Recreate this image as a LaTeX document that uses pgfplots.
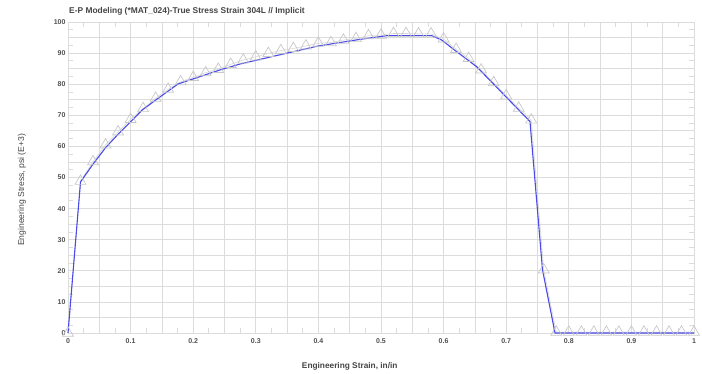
\documentclass[border=0pt]{standalone}
\usepackage{pgfplots}
\pgfplotsset{compat=1.18}
\usepackage{fontspec}
\setmainfont{Liberation Sans}
\definecolor{gridc}{HTML}{DCDCDC}
\definecolor{txt}{HTML}{505050}
\definecolor{bl}{HTML}{4A4AE8}
\definecolor{tri}{HTML}{C8C8C8}
\begin{document}
\begin{tikzpicture}[x=1pt,y=1pt]
\useasboundingbox (-68,-40) rectangle (634,333);
\begin{axis}[
  at={(0,0)}, anchor=south west,
  scale only axis, width=626pt, height=311pt,
  xmin=0, xmax=1, ymin=0, ymax=100,
  axis line style={gridc},
  xtick={0,0.05,...,1.01},
  xticklabels={0,{},0.1,{},0.2,{},0.3,{},0.4,{},0.5,{},0.6,{},0.7,{},0.8,{},0.9,{},1},
  ytick={0,5,...,100},
  yticklabels={0,{},10,{},20,{},30,{},40,{},50,{},60,{},70,{},80,{},90,{},100},
  minor x tick num=1, minor y tick num=1,
  major tick length=0pt, minor tick length=5pt,
  tick align=inside,
  tick style={gridc, line width=0.8pt},
  grid=major,
  major grid style={gridc, line width=0.8pt},
  tick label style={font=\fontsize{7}{8}\selectfont\bfseries, text=txt},
  xticklabel style={yshift=-2pt},
  yticklabel style={xshift=1pt},
  title={E-P Modeling (*MAT\_024)-True Stress Strain 304L // Implicit},
  title style={at={(axis description cs:0,1)}, anchor=south west, yshift=0pt, inner sep=1pt,
    font=\fontsize{8.4}{9}\selectfont\bfseries, text=txt!85!black},
  xlabel={Engineering Strain, in/in},
  xlabel style={at={(axis description cs:0.45,-0.106)}, anchor=center,
    font=\fontsize{8.3}{9}\selectfont\bfseries, text=txt!85!black},
  ylabel={Engineering Stress, psi (E+3)},
  ylabel style={at={(axis description cs:-0.0735,0.46)}, anchor=center, rotate=0,
    font=\fontsize{8.6}{9}\selectfont, text=txt!85!black},
  clip=false,
]
\addplot[tri!70, line width=0.6pt, mark=triangle, mark size=6.3pt, mark options={tri, line width=0.7pt}]
coordinates {
(0,0) (0.02,48.8) (0.04,55.1) (0.06,60.5) (0.08,64.7) (0.10,68.7) (0.12,72.2)
(0.14,75.5) (0.16,78.4) (0.18,80.8) (0.20,82.2) (0.22,83.7) (0.24,84.8) (0.26,86.4)
(0.28,87.8) (0.30,88.8) (0.32,89.9) (0.34,90.8) (0.36,91.5) (0.38,92.3) (0.40,93.2)
(0.42,93.4) (0.44,94.2) (0.46,94.7) (0.48,95.6) (0.50,95.8) (0.52,96.3) (0.54,96.3)
(0.56,96.2) (0.58,96.2) (0.60,94.6) (0.62,91.2) (0.64,88.3) (0.66,84.6) (0.68,80.5)
(0.70,76.3) (0.72,72.3) (0.74,68.5) (0.76,20.3) (0.78,0.3) (0.80,0.3) (0.82,0.3)
(0.84,0.3) (0.86,0.3) (0.88,0.3) (0.90,0.3) (0.92,0.3) (0.94,0.3) (0.96,0.3)
(0.98,0.3) (1.00,0.3)
};
\addplot[bl, line width=1.1pt, mark=none] coordinates {
(0,0) (0.02,48.6) (0.04,54.3) (0.06,59.6) (0.08,63.9) (0.10,67.9) (0.118,71.6)
(0.14,74.9) (0.176,80.1) (0.243,84.6) (0.275,86.5) (0.35,90.0) (0.40,92.3)
(0.466,94.4) (0.509,95.6) (0.581,95.6) (0.597,94.2) (0.618,90.9) (0.653,85.6)
(0.738,68.0) (0.758,20.3) (0.778,0) (1,0)
};
\end{axis}
\end{tikzpicture}
\end{document}
